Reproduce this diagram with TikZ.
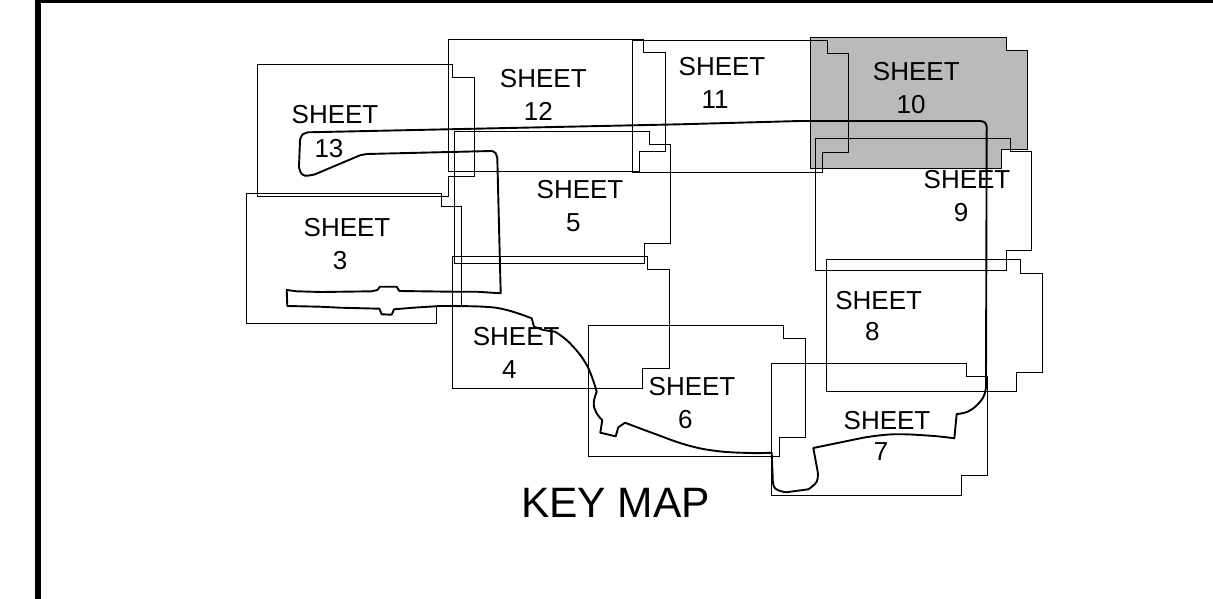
\documentclass[tikz,border=0pt]{standalone}
\usepackage{fontspec}
\setmainfont{Liberation Sans}
\tikzset{
    sheetline/.style={line width=1pt,line join=miter},
    routeline/.style={line width=1.9pt,line join=round},
    sheetlabel/.style={inner sep=0pt,font=\fontsize{26}{26}\selectfont},
    keylabel/.style={inner sep=0pt,font=\fontsize{42.5}{42.5}\selectfont}
}
\begin{document}
\begin{tikzpicture}[x=1pt,y=-1pt]
    \useasboundingbox (0,0) rectangle (1213,599);
    % outer frame
    \fill (34.5,0) rectangle (41.3,599);
    \fill (34.5,0) rectangle (1213,2.7);
    % sheet 10 is the shaded one
    \draw[sheetline,fill={rgb,255:red,186;green,186;blue,186}]
        (810.3,37.3)--(1006,37.3)--(1006,50.3)--(1027,50.3)--(1027,149.3)
        --(1001,149.3)--(1001,169)--(810.3,169)--cycle;
    \draw[sheetline]
        (257.3,64.3)--(452.7,64.3)--(452.7,77.3)--(474.3,77.3)--(474.3,176.7)
        --(448.7,176.7)--(448.7,196)--(257.3,196)--cycle;
    \draw[sheetline]
        (448.7,39.3)--(643.7,39.3)--(643.7,53)--(665.3,53)--(665.3,152)
        --(639,152)--(639,171.7)--(448.7,171.7)--cycle;
    \draw[sheetline]
        (632.3,41)--(827.7,41)--(827.7,53.7)--(848.7,53.7)--(848.7,152.7)
        --(822.3,152.7)--(822.3,172.3)--(632.3,172.3)--cycle;
    \draw[sheetline]
        (454,132)--(649.3,132)--(649.3,144.7)--(670.3,144.7)--(670.3,243.7)
        --(644.7,243.7)--(644.7,263.3)--(454,263.3)--cycle;
    \draw[sheetline]
        (246.3,193)--(441.7,193)--(441.7,206.7)--(461.7,206.7)--(461.7,306)
        --(436.7,306)--(436.7,323.3)--(246.3,323.3)--cycle;
    \draw[sheetline]
        (452.3,256.7)--(647.3,256.7)--(647.3,269.3)--(669,269.3)--(669,368.3)
        --(642.3,368.3)--(642.3,388)--(452.3,388)--cycle;
    \draw[sheetline]
        (588.3,325.3)--(783.7,325.3)--(783.7,338)--(805.3,338)--(805.3,437)
        --(779,437)--(779,456.5)--(588.3,456.5)--cycle;
    \draw[sheetline]
        (771,363.7)--(966.3,363.7)--(966.3,376.3)--(987.3,376.3)--(987.3,475.7)
        --(961.3,475.7)--(961.3,495)--(771,495)--cycle;
    \draw[sheetline]
        (826,259.7)--(1020.3,259.7)--(1020.3,273)--(1042.3,273)--(1042.3,372.3)
        --(1016.3,372.3)--(1016.3,391.3)--(826,391.3)--cycle;
    \draw[sheetline]
        (815.3,139)--(1010.3,139)--(1010.3,151.7)--(1031.7,151.7)--(1031.7,250.7)
        --(1006,250.7)--(1006,270)--(815.3,270)--cycle;
    % the route
    \draw[routeline]
        (500.7,293.3)--(497.3,158.3)
        --plot[smooth,tension=0.7] coordinates {(497.3,158.3) (495.5,153) (491.7,151)}
        --(366.7,154)--(360,155.3)--(315,174.3)
        --plot[smooth,tension=0.7] coordinates {(315,174.3) (305,175.7) (300.5,172) (299,166.7)}
        --(300,140)
        --plot[smooth,tension=0.7] coordinates {(300,140) (302.5,134.5) (308.3,132.3)}
        --(680,124.3)--(800,121)--(980,121)
        --plot[smooth,tension=0.7] coordinates {(980,121) (985,122.5) (986.7,127)}
        --(986,376.7)
        --plot[smooth,tension=0.7] coordinates {(986,376.7) (985.3,391.7) (979,403) (968,411.5) (956.7,414)}
        --(954.3,438.3)
        --plot[smooth,tension=0.7] coordinates {(954.3,438.3) (930,435.7) (893.3,434.3) (863.3,437.7)}
        --(813.3,448)--(817.7,471.7)
        --plot[smooth,tension=0.7] coordinates {(817.7,471.7) (816.7,481.7) (808.3,489.3)}
        --(786,492.3)
        --plot[smooth,tension=0.7] coordinates {(786,492.3) (775,488.3) (772.7,478.3)}
        --(771.7,452.7)
        --plot[smooth,tension=0.7] coordinates {(771.7,452.7) (750,453) (716.7,451) (686.7,445) (653.3,433.3) (625,422.7)}
        --(618.3,427.3)--(615.7,436.3)--(600.3,432.7)--(602.3,420)
        --plot[smooth,tension=0.7] coordinates {(602.3,420) (596.7,413.3) (593.7,403.3) (596.7,391.7)}
        --plot[smooth,tension=0.7] coordinates {(596.7,391.7) (586.7,365) (570,343.3) (555,331.7)}
        --(543.3,330)--(534,326.7)--(531.7,318.3)
        --plot[smooth,tension=0.7] coordinates {(531.7,318.3) (506.7,310) (483.3,306.7) (440,306)}
        --(413.3,307.7)--(394,309.3)--(391.7,314.7)--(381.7,314.3)--(379.3,308.7)
        --(340,307.7)--(320,306.7)--(287.3,306)--(286.7,290)--(296.7,291.3)
        --(321.7,292)--(371.7,291.3)--(377.3,290)--(380,286.7)--(396.7,286.7)
        --(399.3,291)--(451.7,291.7)--(476.7,291.7)--cycle;
    % labels
    \foreach \n/\ax/\ay/\bx/\by in {
        13/335/114.7/329/148.5,
        12/543.3/79/538.3/111.5,
        11/722/67/715/100,
        10/916.3/72/911/104.5,
        9/967/180/961/213,
        8/878.7/300.3/872.3/332,
        7/887/420.3/881/452,
        6/692/387/685.3/420,
        5/580/190/573.3/223,
        4/516.2/337/509.3/370,
        3/347/228/340/261}
    {
        \node[sheetlabel] (sheet\n) at (\ax,\ay) {SHEET};
        \node[sheetlabel] (num\n) at (\bx,\by) {\n};
    }
    \node[keylabel] (keymap) at (615.5,503) {KEY MAP};
\end{tikzpicture}
\end{document}
